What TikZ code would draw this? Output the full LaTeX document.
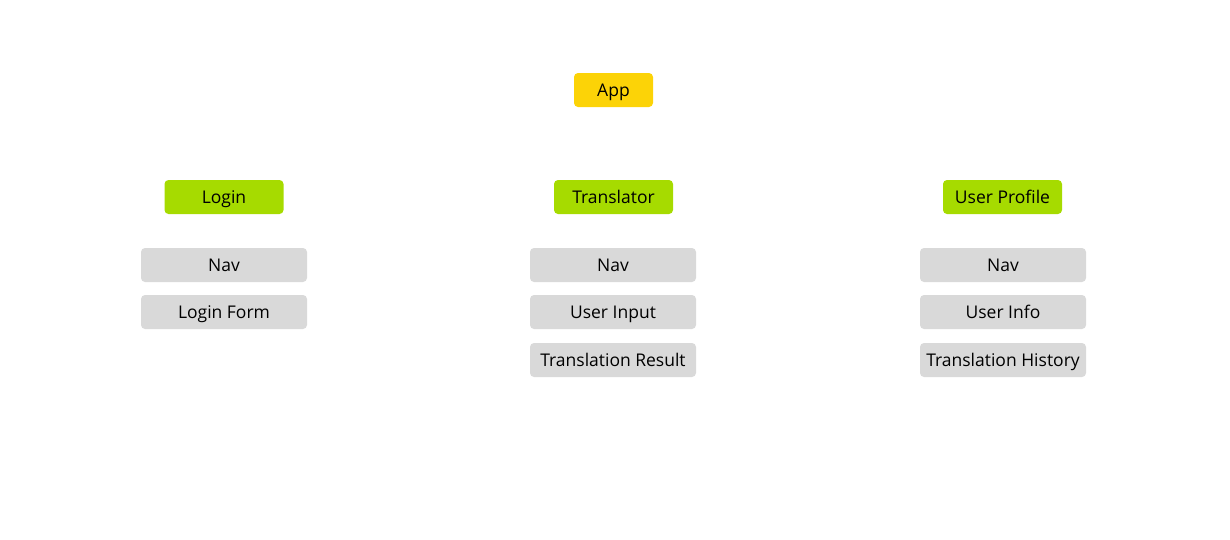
\documentclass[tikz,border=0pt]{standalone}
\usepackage{fontspec}
\setmainfont{Open Sans}
\definecolor{appyellow}{HTML}{FCD307}
\definecolor{pagegreen}{HTML}{A6DB00}
\definecolor{compgrey}{HTML}{D9D9D9}
\begin{document}
\begin{tikzpicture}[x=1pt,y=-1pt,
  box/.style={rounded corners=4pt, inner sep=0pt, minimum height=34pt, text height=12.5pt, text depth=0pt, text=black, font=\fontsize{17.5}{20}\selectfont},
  appbox/.style={box, fill=appyellow, minimum width=79pt},
  pagebox/.style={box, fill=pagegreen, minimum width=119pt},
  compbox/.style={box, fill=compgrey, minimum width=166pt}]
\useasboundingbox (0,0) rectangle (1230,539);
\node[appbox] (app) at (613.5,90) {App};
\node[pagebox] (login) at (224,197) {Login};
\node[pagebox] (translator) at (613.5,197) {Translator};
\node[pagebox] (profile) at (1002.5,197) {User Profile};
\node[compbox] (lnav) at (224,265) {Nav};
\node[compbox] (lform) at (224,312) {Login Form};
\node[compbox] (tnav) at (613,265) {Nav};
\node[compbox] (tinput) at (613,312) {User Input};
\node[compbox] (tresult) at (613,360) {Translation Result};
\node[compbox] (pnav) at (1003,265) {Nav};
\node[compbox] (pinfo) at (1003,312) {User Info};
\node[compbox] (phist) at (1003,360) {Translation History};
\end{tikzpicture}
\end{document}
